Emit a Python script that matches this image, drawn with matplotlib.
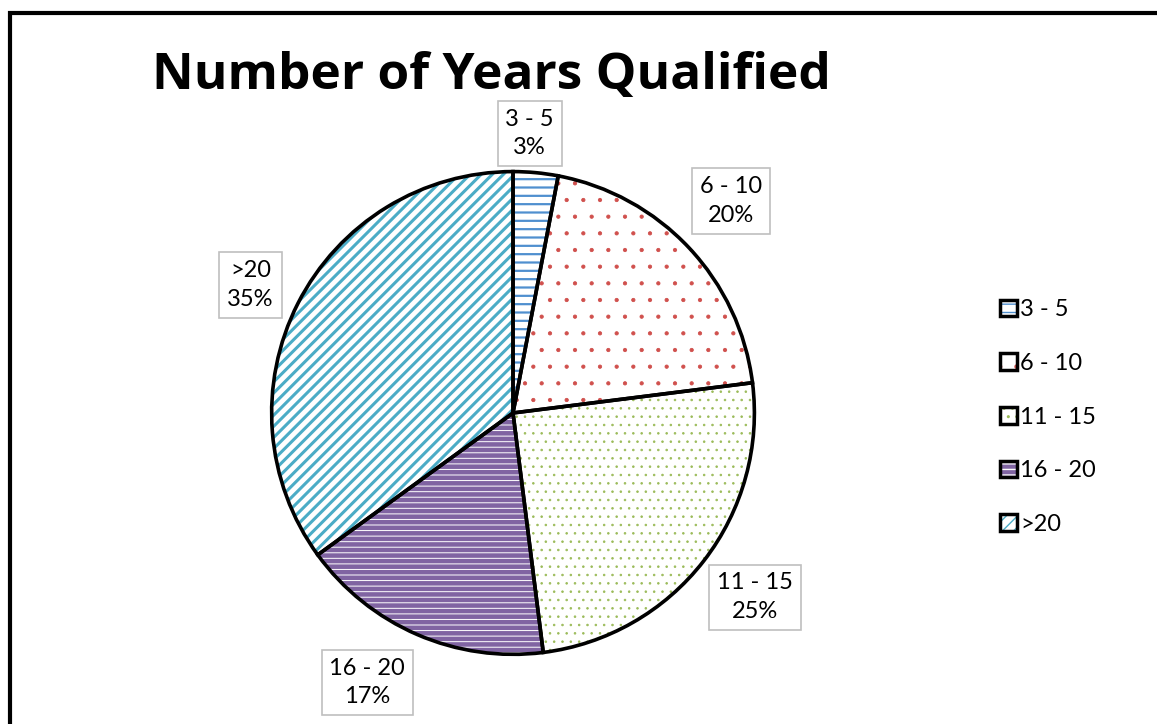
import numpy as np
import matplotlib.pyplot as plt
from matplotlib.patches import Patch, Rectangle
from matplotlib.legend_handler import HandlerTuple

plt.rcParams['font.family'] = ['Lato', 'DejaVu Sans']

# Years qualified groups and their share (%)
groups = ["3 - 5", "6 - 10", "11 - 15", "16 - 20", ">20"]
shares = [3, 20, 25, 17, 35]

# fill styles per slice
face_colors = ["white", "white", "white", "#8064A2", "white"]
hatch_colors = ["#4F8FCF", "#D0504D", "#9BBB59", "white", "#4BACC6"]
hatches = ["--", ".", "..", "---", "///"]
hatch_widths = [1.6, 0.6, 0.6, 0.7, 2.2]

# label placement: distance from centre and small angle nudge (deg)
label_radius = [1.16, 1.26, 1.26, 1.27, 1.21]
label_nudge = [2, 1, 0.5, -5, 1]

fig = plt.figure(figsize=(11.57, 7.24), dpi=100)
ax = fig.add_axes([0.1409, -0.0539, 0.605, 0.967])
ax.axis("off")

# hatched fill layer
fills, _ = ax.pie(shares, startangle=90, counterclock=False, radius=1,
                  colors=face_colors, wedgeprops=dict(linewidth=0))
for w, h, hc, hw in zip(fills, hatches, hatch_colors, hatch_widths):
    w.set_hatch(h)
    w.set_edgecolor(hc)
    w.set_linewidth(0)
    if hasattr(w, "set_hatch_linewidth"):
        w.set_hatch_linewidth(hw)

# black outline layer
outlines, _ = ax.pie(shares, startangle=90, counterclock=False, radius=1,
                     wedgeprops=dict(fill=False, edgecolor="black", linewidth=2.6))
ax.set_xlim(-1.45, 1.45)
ax.set_ylim(-1.45, 1.45)
ax.set_aspect("equal")

# data labels in boxes outside the slices
for w, g, s, r, nd in zip(outlines, groups, shares, label_radius, label_nudge):
    mid = np.deg2rad((w.theta1 + w.theta2) / 2 + nd)
    ax.text(r * np.cos(mid), r * np.sin(mid), f"{g}\n{s}%",
            ha="center", va="center", fontsize=17, linespacing=1.45,
            multialignment="center",
            bbox=dict(boxstyle="square,pad=0.33", facecolor="white",
                      edgecolor="#BFBFBF", linewidth=1.2))

# legend with colored hatches inside black squares
handles = []
for fc, h, hc, hw in zip(face_colors, hatches, hatch_colors, hatch_widths):
    inner = Patch(facecolor=fc, edgecolor=hc, hatch=h, linewidth=0)
    outer = Patch(fill=False, edgecolor="black", linewidth=2.5)
    handles.append((inner, outer))
fig.legend(handles, groups, loc="center left", bbox_to_anchor=(0.846, 0.424),
           frameon=False, fontsize=17, handlelength=0.7, handleheight=0.7,
           handletextpad=0.15, labelspacing=1.38,
           handler_map={tuple: HandlerTuple(ndivide=1, pad=0)})

fig.text(491 / 1157, 1 - 76 / 724, "Number of Years Qualified",
         ha="center", va="center", fontsize=37, fontweight="bold",
         family=["Open Sans", "DejaVu Sans"])

# outer chart frame
fig.patches.append(Rectangle((0.0086, -0.05), 1.1, 1.0327, transform=fig.transFigure,
                             fill=False, edgecolor="black", linewidth=3))

fig.savefig("out.png", dpi=100, facecolor="white")
